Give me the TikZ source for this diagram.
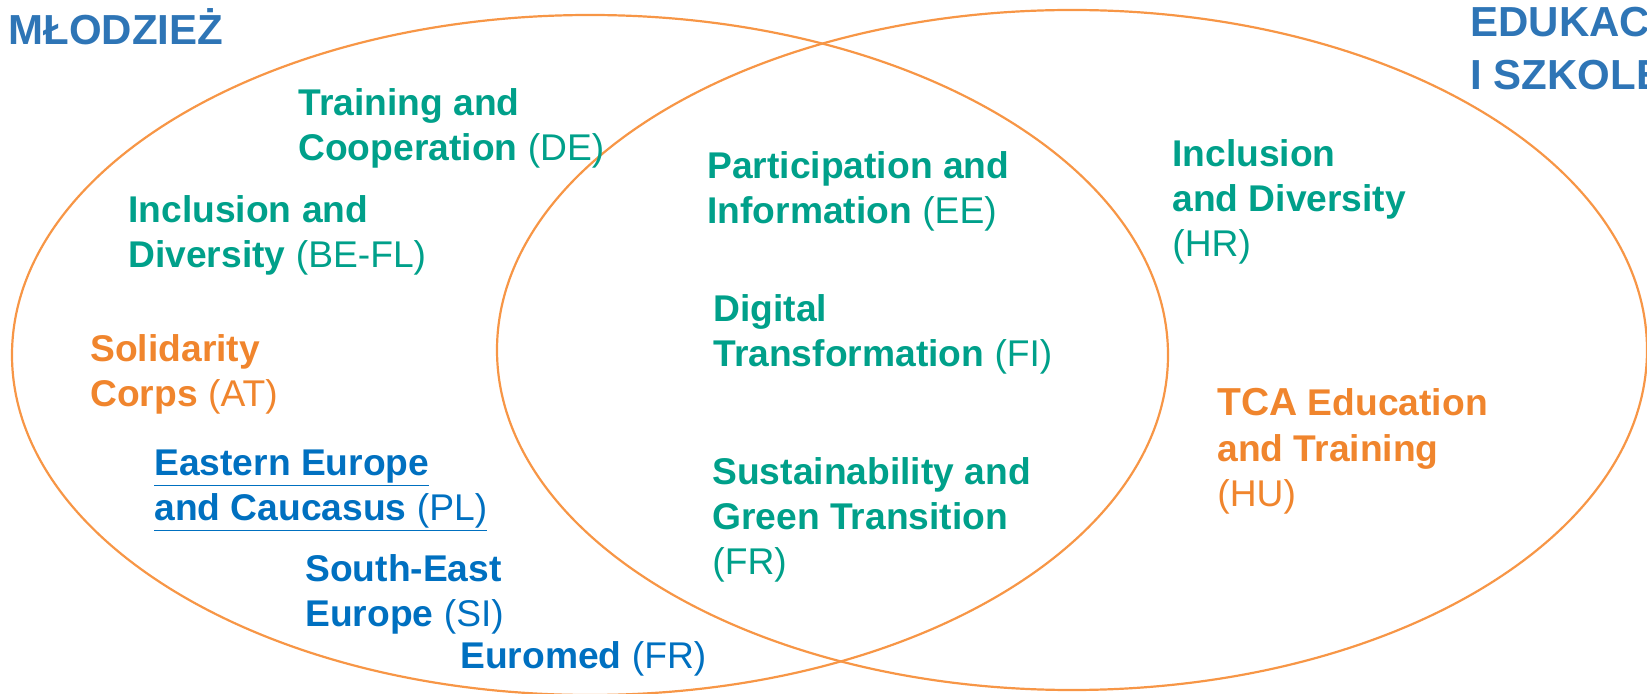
\documentclass[tikz,border=0pt]{standalone}
\usepackage{fontspec}
\setmainfont{Liberation Sans}
\usepackage{xcolor}
\definecolor{ringorange}{HTML}{F79646}
\definecolor{labelteal}{HTML}{00A08A}
\definecolor{labelorange}{HTML}{F0852D}
\definecolor{labelblue}{HTML}{0070C0}
\definecolor{titleblue}{HTML}{2E75B6}

\begin{document}
\begin{tikzpicture}[x=0.5pt,y=-0.5pt,
  ring/.style={draw=ringorange,line width=1.1pt},
  lbl/.style={anchor=base west,inner sep=0pt,align=left,font=\fontsize{18.6}{22.5}\selectfont},
  tealtxt/.style={lbl,text=labelteal},
  orangetxt/.style={lbl,text=labelorange},
  bluetxt/.style={lbl,text=labelblue},
  titletxt/.style={anchor=base west,inner sep=0pt,align=left,text=titleblue,
    font=\fontsize{21}{26.5}\selectfont\bfseries}]
\useasboundingbox (0,0) rectangle (1647,694);
% two sets
\draw[ring] (590,355) ellipse [x radius=578,y radius=340];
\draw[ring] (1072,350) ellipse [x radius=575,y radius=340];
% set titles (anchor = last baseline)
\node[titletxt] (mlodziez) at (8,45) {MŁODZIEŻ};
\node[titletxt] (edukacja) at (1470,90) {EDUKACJA\\I SZKOLENIA};
% youth only
\node[tealtxt] (training) at (298,161) {\textbf{Training and}\\\textbf{Cooperation} (DE)};
\node[tealtxt] (inclyouth) at (128,268) {\textbf{Inclusion and}\\\textbf{Diversity} (BE-FL)};
\node[orangetxt] (solidarity) at (90,407) {\textbf{Solidarity}\\\textbf{Corps} (AT)};
\node[bluetxt] (eastern) at (154,520) {\underline{\textbf{Eastern Europe}}\\\underline{\textbf{and Caucasus} (PL)}};
\node[bluetxt] (southeast) at (305,626) {\textbf{South-East}\\\textbf{Europe} (SI)};
\node[bluetxt] (euromed) at (460,668) {\textbf{Euromed} (FR)};
% both sets
\node[tealtxt] (participation) at (707,224) {\textbf{Participation and}\\\textbf{Information} (EE)};
\node[tealtxt] (digital) at (713,367) {\textbf{Digital}\\\textbf{Transformation} (FI)};
\node[tealtxt] (sustain) at (712,574) {\textbf{Sustainability and}\\\textbf{Green Transition}\\(FR)};
% education only
\node[tealtxt] (incledu) at (1172,257) {\textbf{Inclusion}\\\textbf{and Diversity}\\(HR)};
\node[orangetxt] (tca) at (1217,506) {{\fontsize{19.5}{22.5}\selectfont\textbf{TCA}} \textbf{Education}\\\textbf{and Training}\\(HU)};
\end{tikzpicture}
\end{document}
